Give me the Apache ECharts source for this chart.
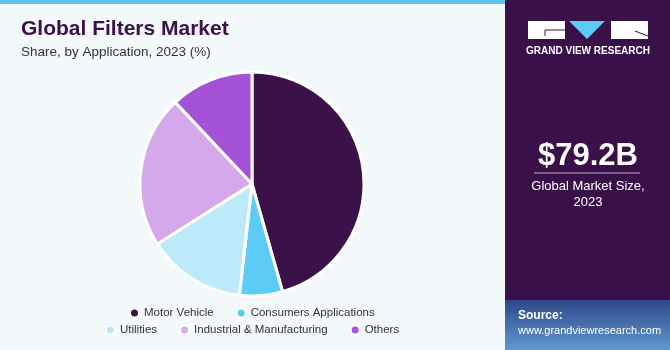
<!DOCTYPE html>
<html>
<head>
<meta charset="utf-8">
<script src="https://cdn.jsdelivr.net/npm/echarts@6/dist/echarts.min.js"></script>
<style>
html, body { margin: 0; padding: 0; background: #f3f8fb; }
#main { width: 670px; height: 350px; }
</style>
</head>
<body>
<div id="main"></div>
<script>
// 数据
var categories = ['Motor Vehicle', 'Consumers Applications', 'Utilities', 'Industrial & Manufacturing', 'Others'];
var shares = [45.6, 6.2, 14.2, 22.0, 12.0];
var colors = ['#3a1148', '#5ccbf5', '#bdeaf9', '#d4a8ea', '#a452d6'];

var myChart = echarts.init(document.getElementById('main'));

var pieData = categories.map(function (name, i) {
	return { name: name, value: shares[i] };
});

var font = '"Liberation Sans", Arial, sans-serif';

option = {
	backgroundColor: '#f3f8fb',
	color: colors,
	title: [{
		text: 'Global Filters Market',
		left: 16,
		top: 14,
		textStyle: {
			color: '#3a1148',
			fontSize: 21,
			fontWeight: 'bold',
			fontFamily: font
		}
	}, {
		text: 'Share, by Application, 2023 (%)',
		left: 16,
		top: 40,
		textStyle: {
			color: '#333',
			fontSize: 13.5,
			fontWeight: 'normal',
			fontFamily: font
		}
	}],
	legend: [{
		data: categories.slice(0, 2),
		left: 129,
		top: 307,
		padding: 0,
		icon: 'circle',
		itemWidth: 9,
		itemHeight: 9,
		itemGap: 22,
		textStyle: { color: '#333', fontSize: 11.5, fontFamily: font }
	}, {
		data: categories.slice(2),
		left: 105,
		top: 324,
		padding: 0,
		icon: 'circle',
		itemWidth: 9,
		itemHeight: 9,
		itemGap: 22,
		textStyle: { color: '#333', fontSize: 11.5, fontFamily: font }
	}],
	graphic: [
		// 顶部蓝条
		{ type: 'rect', shape: { x: 0, y: 0, width: 505, height: 4 }, style: { fill: '#5bc4ed' } },
		// 右侧面板
		{ type: 'rect', shape: { x: 505, y: 0, width: 165, height: 350 }, style: { fill: '#3a1048' } },
		{
			type: 'rect', shape: { x: 505, y: 300, width: 165, height: 50 },
			style: {
				fill: new echarts.graphic.LinearGradient(0, 0, 0, 1, [
					{ offset: 0, color: '#2f4688' },
					{ offset: 1, color: '#5f9ad0' }
				])
			}
		},
		// logo
		{ type: 'rect', shape: { x: 528, y: 21, width: 37, height: 18 }, style: { fill: '#fff' } },
		{ type: 'polygon', shape: { points: [[569, 21], [605, 21], [587, 39]] }, style: { fill: '#5ccbf5' } },
		{ type: 'rect', shape: { x: 611, y: 21, width: 37, height: 18 }, style: { fill: '#fff' } },
		{ type: 'polyline', shape: { points: [[545, 36], [545, 30], [565, 30]] }, style: { stroke: '#3a1048', lineWidth: 1, fill: null } },
		{ type: 'line', shape: { x1: 635, y1: 31, x2: 648, y2: 36 }, style: { stroke: '#3a1048', lineWidth: 1 } },
		{
			type: 'text', x: 588, y: 51,
			style: { text: 'GRAND VIEW RESEARCH', fill: '#fff', font: 'bold 10px ' + font, align: 'center', verticalAlign: 'middle' }
		},
		{
			type: 'text', x: 588, y: 156,
			style: { text: '$79.2B', fill: '#fff', font: 'bold 31px ' + font, align: 'center', verticalAlign: 'middle' }
		},
		{ type: 'line', shape: { x1: 534, y1: 173, x2: 640, y2: 173 }, style: { stroke: '#b9aec3', lineWidth: 1 } },
		{
			type: 'text', x: 588, y: 186,
			style: { text: 'Global Market Size,', fill: '#fff', font: '13px ' + font, align: 'center', verticalAlign: 'middle' }
		},
		{
			type: 'text', x: 588, y: 202,
			style: { text: '2023', fill: '#fff', font: '13px ' + font, align: 'center', verticalAlign: 'middle' }
		},
		{
			type: 'text', x: 518, y: 316,
			style: { text: 'Source:', fill: '#fff', font: 'bold 12px ' + font, verticalAlign: 'middle' }
		},
		{
			type: 'text', x: 518, y: 331,
			style: { text: 'www.grandviewresearch.com', fill: '#fff', font: '11px ' + font, verticalAlign: 'middle' }
		}
	],
	series: [{
		type: 'pie',
		center: [252, 184],
		radius: [0, 112],
		startAngle: 90,
		clockwise: true,
		label: { show: false },
		labelLine: { show: false },
		itemStyle: { borderColor: '#fff', borderWidth: 3 },
		emphasis: { disabled: true },
		data: pieData
	}]
};

myChart.setOption(option);
</script>
</body>
</html>
